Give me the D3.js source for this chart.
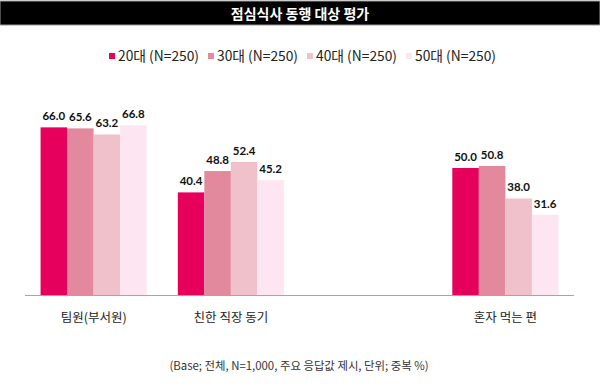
<!DOCTYPE html>
<html>
<head>
<meta charset="utf-8">
<script src="https://cdn.jsdelivr.net/npm/d3@7"></script>
<style>
  body { margin: 0; background: #fff; }
  svg { display: block; font-family: "Noto Sans CJK KR", "Noto Sans", sans-serif; }
</style>
</head>
<body>
<svg width="600" height="387"></svg>
<script>
// chart data
const categories = ['팀원(부서원)', '친한 직장 동기', '', '혼자 먹는 편'];
const seriesNames = ['20대 (N=250)', '30대 (N=250)', '40대 (N=250)', '50대 (N=250)'];
const v20 = [66.0, 40.4, null, 50.0];
const v30 = [65.6, 48.8, null, 50.8];
const v40 = [63.2, 52.4, null, 38.0];
const v50 = [66.8, 45.2, null, 31.6];
const colors = ['#e6005c', '#e2899e', '#f0c1cb', '#fde6f1'];

const series = [v20, v30, v40, v50];

const svg = d3.select('svg');

// title bar
svg.append('rect').attr('x', 0).attr('y', 1).attr('width', 600).attr('height', 24)
    .attr('fill', '#000').attr('stroke', '#999').attr('stroke-width', 1);
svg.append('text').attr('x', 300).attr('y', 19)
    .attr('text-anchor', 'middle').attr('fill', '#fff')
    .attr('font-size', 14).attr('font-weight', 'bold')
    .text('점심식사 동행 대상 평가');

// legend
const legend = svg.append('g').attr('transform', 'translate(109,56)');
seriesNames.forEach(function(name, i) {
    const item = legend.append('g').attr('transform', 'translate(' + (i * 99) + ',0)');
    item.append('rect').attr('x', 0).attr('y', -3).attr('width', 6).attr('height', 6).attr('fill', colors[i]);
    item.append('text').attr('x', 9).attr('y', 0).attr('dy', '0.36em')
        .attr('font-size', 13.8).attr('fill', '#222').text(name);
});

// scales
const x0 = d3.scaleBand().domain(d3.range(categories.length)).range([25, 574]).paddingInner(0.2268).paddingOuter(0.1134);
const x1 = d3.scaleBand().domain(d3.range(series.length)).range([0, x0.bandwidth()]);
const y = d3.scaleLinear().domain([0, 100]).range([295, 41]);

const groups = svg.append('g').selectAll('g')
    .data(categories)
    .join('g')
    .attr('transform', function(d, i) { return 'translate(' + x0(i) + ',0)'; });

groups.each(function(cat, ci) {
    const g = d3.select(this);
    series.forEach(function(vals, si) {
        const v = vals[ci];
        if (v == null) return;
        g.append('rect')
            .attr('x', x1(si)).attr('y', y(v))
            .attr('width', x1.bandwidth()).attr('height', y(0) - y(v))
            .attr('fill', colors[si]);
        g.append('text')
            .attr('x', x1(si) + x1.bandwidth() / 2).attr('y', y(v) - 7)
            .attr('text-anchor', 'middle').attr('font-size', 11.5).attr('font-weight', 'bold')
            .attr('font-family', 'Lato, sans-serif').attr('fill', '#111')
            .text(v.toFixed(1));
    });
});

// baseline and category labels
const xAxis = svg.append('g').attr('transform', 'translate(0,' + y(0) + ')')
    .call(d3.axisBottom(x0).tickSize(0).tickPadding(18).tickFormat(function(i) { return categories[i]; }));
xAxis.select('.domain').attr('stroke', '#a6a6a6').attr('d', 'M25,0.5H574');
xAxis.selectAll('text').attr('font-size', 12.5).attr('fill', '#222')
    .attr('font-family', '"Noto Sans CJK KR", sans-serif');

// footnote
svg.append('text').attr('x', 299).attr('y', 370)
    .attr('text-anchor', 'middle').attr('font-size', 11.4).attr('fill', '#333')
    .text('(Base; 전체, N=1,000, 주요 응답값 제시, 단위; 중복 %)');
</script>
</body>
</html>
